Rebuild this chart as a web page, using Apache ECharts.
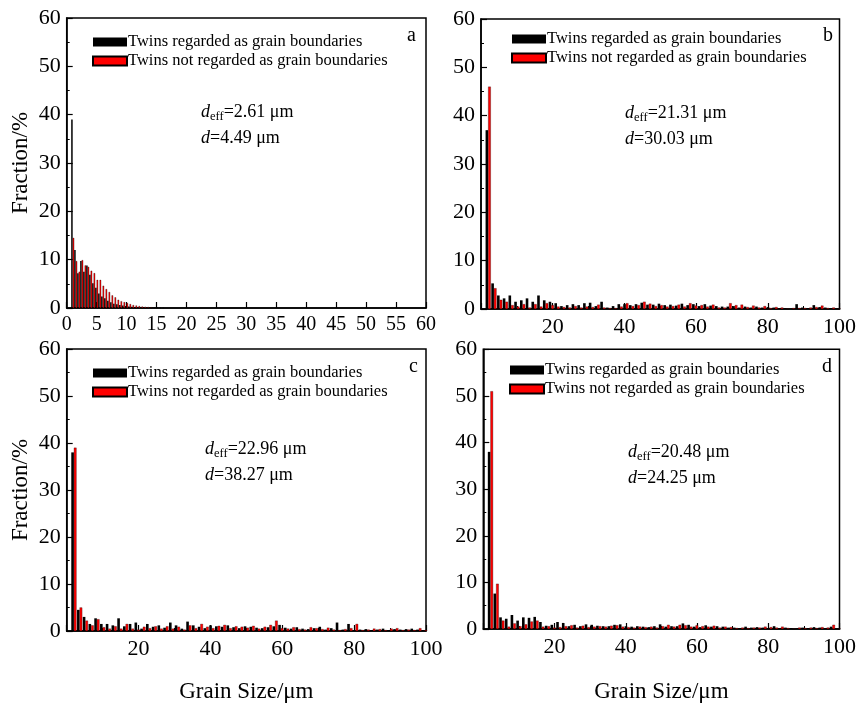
<!DOCTYPE html>
<html><head><meta charset="utf-8">
<script src="https://cdn.jsdelivr.net/npm/echarts@6/dist/echarts.min.js"></script>
<style>html,body{margin:0;padding:0;background:#fff}#c{width:859px;height:704px}</style>
</head><body><div id="c"></div>
<script>
// ---- data ----
var seriesNames = ['Twins regarded as grain boundaries', 'Twins not regarded as grain boundaries'];
var panelLetters = ['a', 'b', 'c', 'd'];
var deffValues = ['2.61', '21.31', '22.96', '20.48'];
var dValues = ['4.49', '30.03', '38.27', '24.25'];
var yTicks = [0, 10, 20, 30, 40, 50, 60];

var binsA = [1.0,1.5,2.0,2.5,3.0,3.5,4.0,4.5,5.0,5.5,6.0,6.5,7.0,7.5,8.0,8.5,9.0,9.5,10.0,10.5,11.0,11.5,12.0,12.5,13.0,13.5,14.0,14.5,15.0,15.5,16.0];
var aBlack = [39,12.0,7.2,9.7,7.5,8.8,6.9,5.1,4.2,3.0,2.4,2.0,1.5,1.2,0.9,0.8,0.6,0.5,0.4,0.3,0.25,0.2,0.15,0.1,0.1,0.05,0.05,0.05,0.03,0.02,0.02];
var aRed   = [14.5,9.7,7.5,9.9,8.8,8.5,7.7,7.2,5.8,5.8,4.6,3.9,3.3,2.6,2.2,1.7,1.4,1.2,1.0,0.8,0.6,0.5,0.4,0.3,0.25,0.2,0.15,0.1,0.1,0.05,0.05];

var binsL = [2.0,3.6,5.2,6.8,8.4,10.0,11.6,13.2,14.8,16.4,18.0,19.6,21.2,22.8,24.4,26.0,27.6,29.2,30.8,32.4,34.0,35.6,37.2,38.8,40.4,42.0,43.6,45.2,46.8,48.4,50.0,51.6,53.2,54.8,56.4,58.0,59.6,61.2,62.8,64.4,66.0,67.6,69.2,70.8,72.4,74.0,75.6,77.2,78.8,80.4,82.0,83.6,85.2,86.8,88.4,90.0,91.6,93.2,94.8,96.4,98.0,99.6];
var bBlack = [37,5.3,2.8,2.2,2.8,1.5,1.8,2.2,1.5,2.8,1.8,1.5,1.2,0.6,0.8,1.0,0.8,1.2,1.3,0.6,1.5,0.3,0.6,1.0,1.0,0.8,1.0,1.3,0.9,0.9,1.1,0.8,0.9,0.7,1.1,0.8,1.0,0.6,1.0,0.7,0.6,0.5,0.5,0.6,0.3,0.5,0.3,0.5,0.3,0.4,0.3,0.2,0.2,0.0,1.0,0.3,0.2,0.8,0.4,0.3,0.2,0.1];
var bRed   = [46,4.3,1.9,1.5,0.8,0.5,1.0,0.3,1.0,0.5,1.2,0.8,0.5,0.4,0.3,0.6,0.3,0.5,0.4,0.9,0.3,0.2,0.2,0.5,1.2,0.6,0.8,1.5,1.1,0.6,0.8,0.5,0.6,0.9,0.5,1.2,0.7,0.8,0.5,0.9,0.3,0.3,1.2,0.8,0.9,0.4,0.7,0.3,0.6,0.2,0.4,0.3,0.1,0.2,0.2,0.2,0.3,0.4,0.7,0.2,0.3,0.1];
var cBlack = [38,4.5,3.0,1.5,2.7,1.5,1.5,1.2,2.7,1.0,1.5,1.8,0.5,1.5,0.9,1.2,0.7,1.8,1.2,0.5,2.0,1.2,0.9,0.6,1.2,1.0,0.9,1.2,0.8,0.6,1.0,0.9,0.7,0.6,0.8,1.0,1.3,0.7,0.5,0.8,0.5,0.4,0.6,0.9,0.3,0.6,1.8,0.3,1.5,0.2,0.3,0.4,0.2,0.3,0.5,0.2,0.4,0.3,0.4,0.5,0.3,0.2];
var cRed   = [39,5.0,2.2,1.2,2.5,0.8,0.5,1.0,0.5,1.5,0.5,0.3,0.9,0.6,1.0,0.5,1.0,0.5,0.9,0.3,1.2,0.6,1.5,0.9,0.6,1.1,1.3,0.6,1.0,0.9,0.7,1.1,0.5,0.9,1.3,2.2,0.6,0.5,0.8,0.4,0.3,0.8,0.6,0.4,0.7,0.3,0.2,0.4,0.6,1.5,0.2,0.3,0.5,0.4,0.2,0.5,0.6,0.2,0.3,0.2,0.6,0.2];
var dBlack = [38,7.6,2.5,2.2,3.0,1.8,2.5,2.4,2.6,1.5,0.7,0.9,1.5,1.3,0.6,0.9,0.6,1.0,0.9,0.7,0.6,0.6,0.9,1.0,0.6,0.5,0.6,0.5,0.4,0.6,1.0,0.5,0.6,0.6,1.2,0.9,0.5,0.4,0.8,0.5,0.6,0.5,0.3,0.3,0.2,0.5,0.3,0.4,0.3,0.2,0.6,0.2,0.3,0.2,0.1,0.3,0.2,0.4,0.3,0.2,0.5,0.1];
var dRed   = [51,9.7,1.8,0.5,1.2,0.6,1.0,1.6,1.8,0.5,0.6,0.3,0.4,0.6,0.8,0.3,0.7,0.4,0.5,0.6,0.5,0.7,0.8,0.5,0.4,0.3,0.5,0.4,0.5,0.3,0.6,0.9,0.5,0.9,0.8,0.5,0.8,0.6,0.5,0.7,0.3,0.5,0.4,0.2,0.3,0.2,0.3,0.3,0.5,0.4,0.3,0.5,0.2,0.1,0.3,0.2,0.3,0.2,0.4,0.3,0.9,0.1];

var panels = [
  {bins: binsA, black: aBlack, red: aRed, xMax: 60, xInt: 5},
  {bins: binsL, black: bBlack, red: bRed, xMax: 100, xInt: 20},
  {bins: binsL, black: cBlack, red: cRed, xMax: 100, xInt: 20},
  {bins: binsL, black: dBlack, red: dRed, xMax: 100, xInt: 20}
];

// ---- layout / style ----
var FONT = 'Liberation Serif, Times New Roman, serif';
var grids = [
  {left: 66.7, top: 18, width: 359.3, height: 290},
  {left: 481, top: 19, width: 359, height: 290},
  {left: 66.7, top: 349, width: 359.3, height: 290},
  {left: 483.3, top: 349.3, width: 359.7, height: 292.4}
];
var legendPos = [
  {left: 92, top: 33},
  {left: 511, top: 30},
  {left: 92, top: 364},
  {left: 509, top: 361}
];
var letterPos = [[407, 26], [823, 26], [409, 357], [822, 357]];
var annotPos = [[201, 99], [625, 100], [205, 436], [628, 439]];
var barW = [1.5, 2.6, 2.6, 2.6];
function pairs(xs, ys) { return xs.map(function (x, i) { return [x, ys[i]]; }); }

var option = {
  animation: false,
  backgroundColor: '#fff',
  grid: grids.map(function (g) { return Object.assign({show: true, borderColor: '#000', borderWidth: 1.5, backgroundColor: 'transparent'}, g); }),
  xAxis: panels.map(function (p, i) {
    return {
      gridIndex: i, type: 'value', min: 0, max: p.xMax, interval: p.xInt,
      name: (i >= 2) ? 'Grain Size/μm' : '',
      nameLocation: 'middle', nameGap: i === 2 ? 49 : 51,
      nameTextStyle: {fontFamily: FONT, fontSize: 23, color: '#000'},
      axisLine: {show: true, onZero: false, lineStyle: {color: '#000', width: 1.5}},
      axisTick: {show: true, inside: true, length: 6, lineStyle: {color: '#000', width: 1.2}},
      minorTick: {show: i > 0, splitNumber: 2, length: 3, lineStyle: {color: '#000', width: 1}},
      splitLine: {show: false},
      axisLabel: {
        fontFamily: FONT, fontSize: i === 0 ? 20 : 22, color: '#000', margin: 7,
        formatter: function (v) { return (i > 0 && v === 0) ? '' : String(v); }
      }
    };
  }),
  yAxis: panels.map(function (p, i) {
    return {
      gridIndex: i, type: 'value', min: yTicks[0], max: yTicks[yTicks.length - 1], interval: 10,
      name: (i % 2 === 0) ? 'Fraction/%' : '',
      nameLocation: 'middle', nameGap: 34,
      nameTextStyle: {fontFamily: FONT, fontSize: 23, color: '#000'},
      axisLine: {show: true, lineStyle: {color: '#000', width: 1.5}},
      axisTick: {show: true, inside: true, length: 6, lineStyle: {color: '#000', width: 1.2}},
      minorTick: {show: true, splitNumber: 2, length: 3, lineStyle: {color: '#000', width: 1}},
      splitLine: {show: false},
      axisLabel: {fontFamily: FONT, fontSize: 22, color: '#000', margin: 6}
    };
  }),
  legend: legendPos.map(function (lp, i) {
    return {
      left: lp.left, top: lp.top, orient: 'vertical', itemWidth: 34, itemHeight: 9, itemGap: 1,
      padding: 0, selectedMode: false,
      textStyle: {fontFamily: FONT, fontSize: 16.5, lineHeight: 18, color: '#000', padding: [0, 0, 0, -4]},
      data: [{name: seriesNames[0], icon: 'rect'}, {name: seriesNames[1], icon: 'rect'}]
    };
  }),
  title: panelLetters.map(function (t, i) {
    return {text: t, left: letterPos[i][0], top: letterPos[i][1], padding: 0,
      textStyle: {fontFamily: FONT, fontSize: 20, fontWeight: 'normal', color: '#000'}};
  }).concat(deffValues.map(function (v, i) {
    return {
      text: '{i|d}{s|eff}{n|=' + v + ' μm}\n{i|d}{n|=' + dValues[i] + ' μm}',
      left: annotPos[i][0], top: annotPos[i][1], padding: 0,
      textStyle: {
        fontFamily: FONT, fontSize: 18, fontWeight: 'normal', color: '#000', lineHeight: 26,
        rich: {
          i: {fontFamily: FONT, fontSize: 18, fontStyle: 'italic', color: '#000', lineHeight: 26},
          s: {fontFamily: FONT, fontSize: 12.5, color: '#000', padding: [9, 0, 0, 0], lineHeight: 26},
          n: {fontFamily: FONT, fontSize: 18, color: '#000', lineHeight: 26}
        }
      }
    };
  })),
  series: []
};

panels.forEach(function (p, i) {
  option.series.push({
    name: seriesNames[0], type: 'bar', xAxisIndex: i, yAxisIndex: i,
    data: pairs(p.bins, p.black), barWidth: barW[i], barGap: '0%',
    itemStyle: {color: '#000', borderColor: '#000', borderWidth: 0}
  });
  option.series.push({
    name: seriesNames[1], type: 'bar', xAxisIndex: i, yAxisIndex: i,
    data: pairs(p.bins, p.red), barWidth: barW[i], barGap: '0%',
    itemStyle: {color: '#ff0000', borderColor: '#000', borderWidth: 0.3}
  });
});

var chart = echarts.init(document.getElementById('c'), null, {renderer: 'canvas'});
chart.setOption(option);
</script>
</body></html>
